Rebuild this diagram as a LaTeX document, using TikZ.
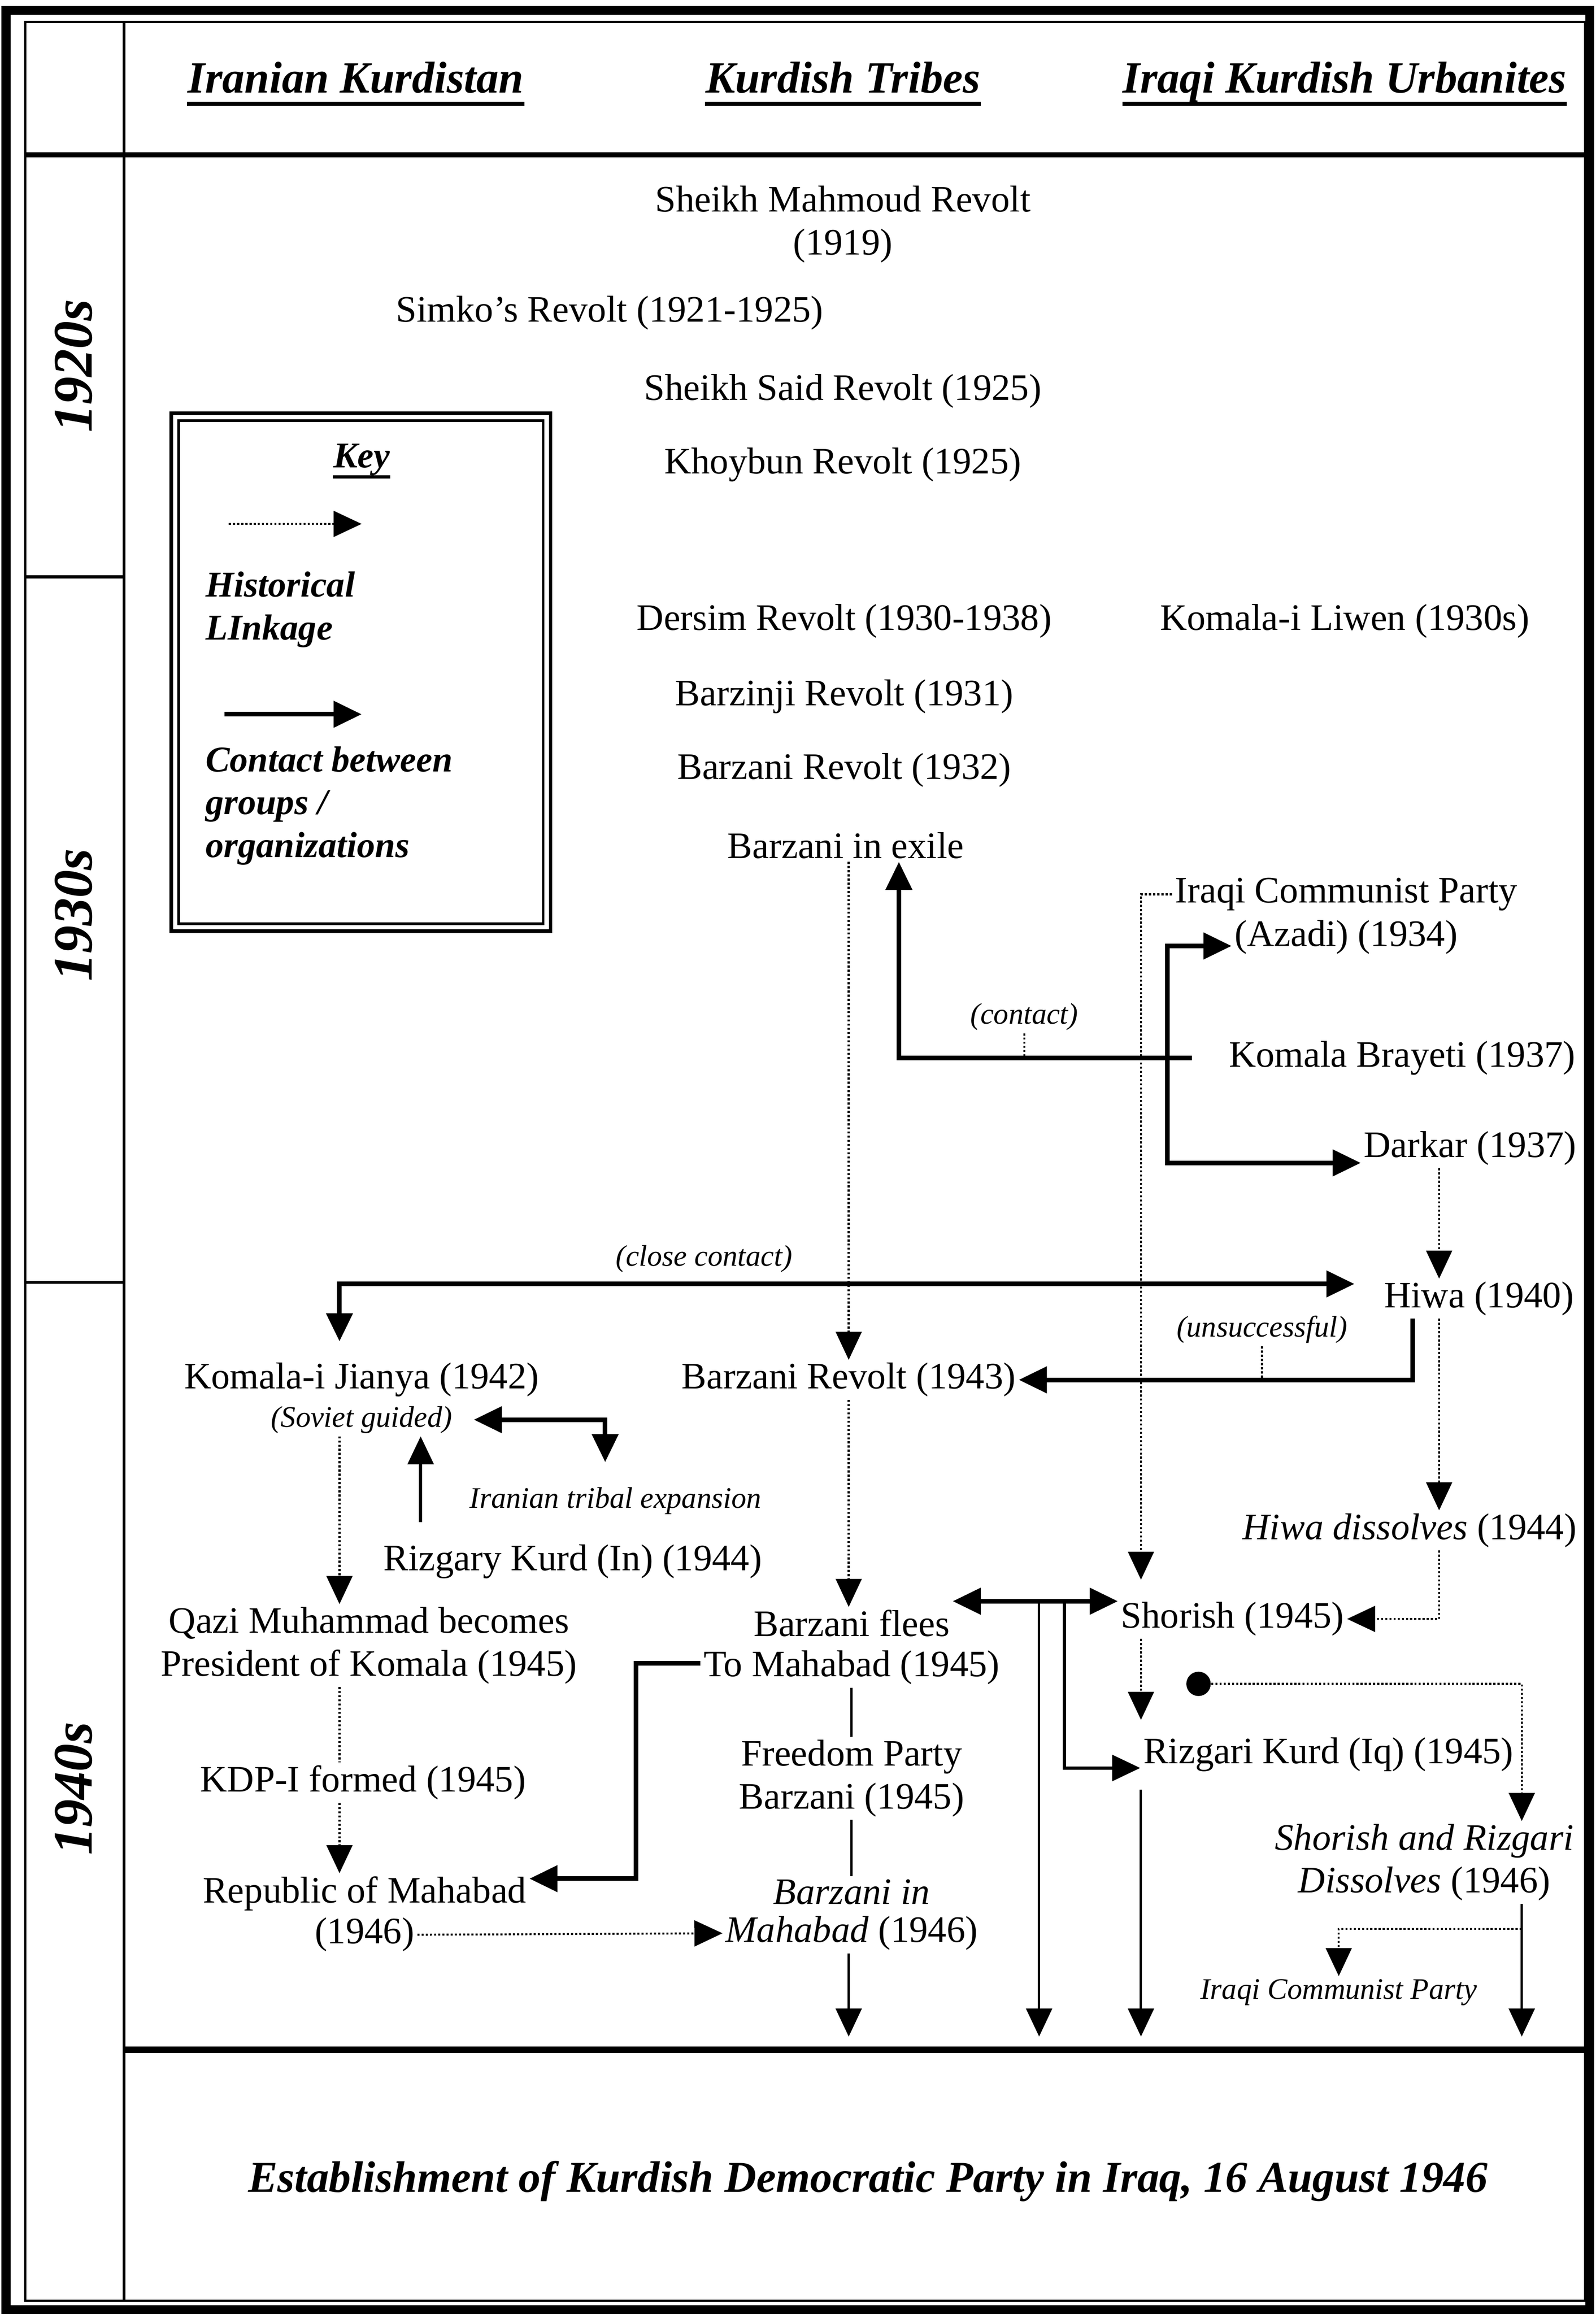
\documentclass[tikz,border=0pt]{standalone}
\usepackage{fontspec}
\setmainfont{Liberation Serif}
\usetikzlibrary{arrows.meta}
\newcommand{\evfont}{\fontsize{14.4pt}{16.5pt}\selectfont}
\newcommand{\hdfont}{\fontsize{17.2pt}{20pt}\selectfont\bfseries\itshape}
\newcommand{\yrfont}{\fontsize{21.5pt}{24pt}\selectfont\bfseries\itshape}
\newcommand{\notefont}{\fontsize{11.5pt}{13pt}\selectfont\itshape}
\newcommand{\keyfont}{\fontsize{14pt}{16.5pt}\selectfont\bfseries\itshape}
\newcommand{\kdpfont}{\fontsize{17pt}{20pt}\selectfont\bfseries\itshape}
\begin{document}
\begin{tikzpicture}[x=0.02cm,y=-0.02cm,
  >={Triangle[length=0.38cm,width=0.35cm]},
  ev/.style={font=\evfont,align=center,inner sep=1pt},
  hd/.style={font=\hdfont,inner sep=0pt,anchor=base},
  yr/.style={font=\yrfont,rotate=90},
  note/.style={font=\notefont,inner sep=1pt},
  keytxt/.style={font=\keyfont,align=left,anchor=west,inner sep=0pt},
  hist/.style={line width=0.75pt,dash pattern=on 0.8pt off 0.8pt,->},
  histline/.style={line width=0.75pt,dash pattern=on 0.8pt off 0.8pt},
  cont/.style={line width=1.8pt,->},
  link/.style={line width=0.9pt},
  linkarrow/.style={line width=0.9pt,->}]
\useasboundingbox (0,0) rectangle (1081,1568);
% frame and rows
\draw[line width=3.5pt] (4,7) rectangle (1077,1565);
\draw[line width=0.9pt] (17,15) rectangle (1074,1559);
\draw[line width=1pt] (84,15) -- (84,1559);
\draw[line width=2pt] (17,105) -- (1074,105);
\draw[line width=1.2pt] (17,391) -- (84,391);
\draw[line width=1.2pt] (17,869) -- (84,869);
\draw[line width=2.5pt] (84,1389) -- (1074,1389);
% headers
\node[hd] (hIran) at (241,63) {Iranian Kurdistan};
\node[hd] (hTribe) at (571,63) {Kurdish Tribes};
\node[hd] (hIraq) at (911,63) {Iraqi Kurdish Urbanites};
\foreach \h in {hIran,hTribe,hIraq}
  \draw[line width=1.5pt] ([yshift=-4.2pt]\h.base west) -- ([yshift=-4.2pt]\h.base east);
\node[yr] (y20) at (50,248) {1920s};
\node[yr] (y30) at (50,620) {1930s};
\node[yr] (y40) at (50,1212) {1940s};
% key
\draw[line width=1.4pt] (116,280) rectangle (373,631);
\draw[line width=1pt] (121,285) rectangle (368,626);
\node[font=\keyfont,inner sep=0pt,anchor=base] (keyhd) at (245,317) {Key};
\draw[line width=1.2pt] ([yshift=-3.5pt]keyhd.base west) -- ([yshift=-3.5pt]keyhd.base east);
\coordinate (kh1) at (155,355);
\coordinate (kh2) at (245,355);
\draw[hist] (kh1) -- (kh2);
\node[keytxt] (khist) at (139,413) {Historical\\LInkage};
\coordinate (kc1) at (152,484);
\coordinate (kc2) at (245,484);
\draw[cont] (kc1) -- (kc2);
\node[keytxt] (kcont) at (139,546) {Contact between\\groups /\\organizations};
% events
\node[ev] (mahmoud) at (571,152) {Sheikh Mahmoud Revolt\\(1919)};
\node[ev] (simko) at (413,212) {Simko's Revolt (1921-1925)};
\node[ev] (said) at (571,265) {Sheikh Said Revolt (1925)};
\node[ev] (khoybun) at (571,315) {Khoybun Revolt (1925)};
\node[ev] (dersim) at (572,421) {Dersim Revolt (1930-1938)};
\node[ev] (liwen) at (911,421) {Komala-i Liwen (1930s)};
\node[ev] (barzinji) at (572,472) {Barzinji Revolt (1931)};
\node[ev] (barz32) at (572,522) {Barzani Revolt (1932)};
\node[ev] (exile) at (573,573) {Barzani in exile};
\node[ev] (icp) at (912,606) {Iraqi Communist Party};
\node[ev] (azadi) at (912,635) {(Azadi) (1934)};
\node[ev] (brayeti) at (950,717) {Komala Brayeti (1937)};
\node[ev] (darkar) at (996,778) {Darkar (1937)};
\node[ev] (hiwa) at (1002,880) {Hiwa (1940)};
\node[ev] (jianya) at (245,935) {Komala-i Jianya (1942)};
\node[note] (soviet) at (245,962) {(Soviet guided)};
\node[ev] (barz43) at (575,935) {Barzani Revolt (1943)};
\node[note] (tribal) at (417,1017) {Iranian tribal expansion};
\node[ev] (rizIn) at (388,1058) {Rizgary Kurd (In) (1944)};
\node[ev] (hdiss) at (955,1037) {\textit{Hiwa dissolves} (1944)};
\node[ev] (qazi) at (250,1115) {Qazi Muhammad becomes\\President of Komala (1945)};
\node[ev] (flees) at (577,1100) {Barzani flees};
\node[ev] (tomah) at (577,1130) {To Mahabad (1945)};
\node[ev] (shorish) at (835,1097) {Shorish (1945)};
\node[ev] (rizIq) at (900,1189) {Rizgari Kurd (Iq) (1945)};
\node[ev] (kdpi) at (246,1208) {KDP-I formed (1945)};
\node[ev] (freedom) at (577,1205) {Freedom Party\\Barzani (1945)};
\node[ev] (republic) at (247,1283) {Republic of Mahabad};
\node[ev] (republicyr) at (247,1311) {(1946)};
\node[ev] (bin) at (577,1282) {\textit{Barzani in}};
\node[ev] (bmah) at (577,1310) {\textit{Mahabad} (1946)};
\node[ev] (sdiss) at (965,1262) {\textit{Shorish and Rizgari}\\\textit{Dissolves} (1946)};
\node[note] (icp2) at (907,1350) {Iraqi Communist Party};
\node[font=\kdpfont] (kdp) at (588,1478) {Establishment of Kurdish Democratic Party in Iraq, 16 August 1946};
% connector labels
\node[note] (lclose) at (477,853) {(close contact)};
\node[note] (lcontact) at (694,689) {(contact)};
\node[note] (lunsucc) at (855,901) {(unsuccessful)};
% lines and junctions
\coordinate (iranline) at (230,0);
\coordinate (tribeline) at (575,0);
\coordinate (exileup) at (609,0);
\coordinate (icpline) at (773,0);
\coordinate (brayJ) at (791,716);
\coordinate (hiwaline) at (975,0);
\coordinate (hiwadrop) at (957,0);
\coordinate (rizup) at (285,0);
\coordinate (mahdrop) at (431,1200);
\coordinate (fsY) at (0,1085);
\coordinate (fsA) at (704,1085);
\coordinate (fsB) at (721,1085);
\coordinate (sdline) at (1031,0);
\coordinate (sdbr) at (1031,1307);
\coordinate (floor) at (0,1380);
\node[circle,fill,inner sep=0pt,minimum size=0.33cm] (srdot) at (812,1141) {};
% historical linkage
\draw[hist] (exile.south -| tribeline) -- (barz43.north -| tribeline);
\draw[hist] (barz43.south -| tribeline) -- (flees.north -| tribeline);
\draw[hist] (soviet.south -| iranline) -- (qazi.north -| iranline);
\draw[histline] (qazi.south -| iranline) -- (kdpi.north -| iranline);
\draw[hist] (kdpi.south -| iranline) -- (republic.north -| iranline);
\draw[hist] (republicyr.east) -- (bmah.west);
\draw[hist,shorten >=0.26cm] (icp.west) -| (shorish.north -| icpline);
\draw[hist] (darkar.south -| hiwaline) -- (hiwa.north -| hiwaline);
\draw[hist] (hiwa.south -| hiwaline) -- (hdiss.north -| hiwaline);
\draw[hist] (hdiss.south -| hiwaline) |- (shorish.east);
\draw[hist,shorten >=0.2cm] (shorish.south -| icpline) -- (rizIq.north -| icpline);
\draw[hist] (srdot) -| (sdiss.north -| sdline);
\draw[hist] (sdbr) -| (icp2.north);
\draw[histline] (lcontact.south) -- (lcontact.south |- brayJ);
\draw[histline] (lunsucc.south) -- (lunsucc.south |- barz43.east);
% contacts
\draw[cont] ([xshift=-0.46cm]brayeti.west) -| (exile.south -| exileup);
\draw[cont,<->] ([yshift=-0.12cm]azadi.west) -| (brayJ) |- ([yshift=-0.2cm]darkar.west);
\draw[cont,<->,shorten <=0.25cm,shorten >=0.36cm] (jianya.north -| iranline) |- ([yshift=0.2cm]hiwa.west);
\draw[cont] (hiwa.south -| hiwadrop) |- (barz43.east);
\draw[cont,<->,shorten <=0.25cm,shorten >=0.3cm] (soviet.east) -| ([xshift=-0.14cm]tribal.north);
\draw[cont,line width=1.2pt,shorten <=0.26cm] (rizIn.north -| rizup) -- (soviet.south -| rizup);
\draw[cont] ([yshift=0.06cm]tomah.west) -| (mahdrop) |- ([yshift=0.2cm]republic.east);
\draw[cont,<->] (fsY -| flees.east) -- (fsY -| shorish.west);
\draw[linkarrow] (fsA) -- (fsA |- floor);
\draw[linkarrow,line width=1.2pt] (fsB) |- ([yshift=-0.18cm]rizIq.west);
\draw[linkarrow,shorten <=0.2cm] (rizIq.south -| icpline) -- (floor -| icpline);
\draw[linkarrow] (sdiss.south -| sdline) -- (floor -| sdline);
\draw[link] (tomah.south) -- (freedom.north);
\draw[link] (freedom.south) -- (bin.north);
\draw[linkarrow] (bmah.south -| tribeline) -- (floor -| tribeline);
\end{tikzpicture}
\end{document}
